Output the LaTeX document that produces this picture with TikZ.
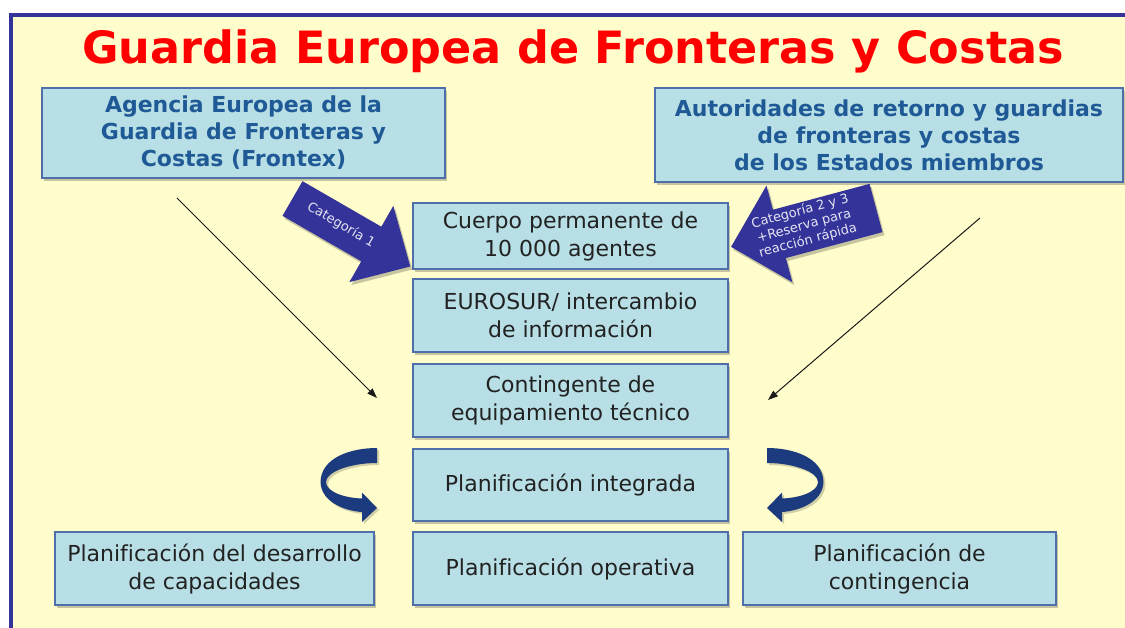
\documentclass[tikz,border=0pt]{standalone}
\usepackage{fontspec}
\setmainfont{DejaVu Sans}[Ligatures={NoCommon}]
\usetikzlibrary{arrows.meta,shadows}
\definecolor{bgyellow}{HTML}{FFFDCC}
\definecolor{framebl}{HTML}{333399}
\definecolor{boxfill}{HTML}{B7DFE5}
\definecolor{boxline}{HTML}{4F6FAA}
\definecolor{hdtext}{HTML}{1F5A96}
\definecolor{bodytext}{HTML}{222222}
\definecolor{blockarrow}{HTML}{333399}
\definecolor{curvearrow}{HTML}{1C3A7E}
\definecolor{arrowtext}{HTML}{E4E4F4}
\definecolor{titlered}{HTML}{FF0000}
\begin{document}
\begin{tikzpicture}[x=1pt,y=-1pt,
  softshadow/.style={drop shadow={shadow xshift=2pt,shadow yshift=-3pt,opacity=0.22,fill=black}},
  box/.style={draw=boxline, line width=1.3pt, fill=boxfill, align=center, inner sep=0pt,
    text=bodytext, font=\fontsize{22}{28}\selectfont, softshadow},
  hbox/.style={box, text=hdtext, font=\bfseries\fontsize{22}{27}\selectfont},
  titletext/.style={text=titlered, font=\bfseries\fontsize{44.5}{50}\selectfont, inner sep=0pt},
  blockarr/.style={fill=blockarrow, softshadow},
  curvearr/.style={fill=curvearrow, drop shadow={shadow xshift=2pt,shadow yshift=-2pt,opacity=0.18,fill=black}},
  arrlabel/.style={text=arrowtext, font=\fontsize{13}{15}\selectfont, align=center, inner sep=0pt},
  thinarrow/.style={draw=black!90, line width=1pt, -{Triangle[length=10pt,width=7pt]}}
]
\useasboundingbox (0,0) rectangle (1125,628);
\fill[white] (0,0) rectangle (1125,628);
\begin{scope}
  \clip (0,0) rectangle (1125,628);
  \draw[framebl, line width=4pt, fill=bgyellow] (11,15) rectangle (1145,650);
\end{scope}

% title
\node[titletext, anchor=base] (title) at (573,64) {Guardia Europea de Fronteras y Costas};

% top boxes
\node[hbox, minimum width=403pt, minimum height=90pt] (frontex) at (243.5,133)
  {Agencia Europea de la\\Guardia de Fronteras y\\Costas (Frontex)};
\node[hbox, minimum width=468pt, minimum height=94pt] (autoridades) at (889,135)
  {Autoridades de retorno y guardias\\de fronteras y costas\\de los Estados miembros};

% central column
\node[box, minimum width=315pt, minimum height=66pt] (cuerpo) at (570.5,236)
  {Cuerpo permanente de\\10 000 agentes};
\node[box, minimum width=315pt, minimum height=73pt] (eurosur) at (570.5,315.5)
  {EUROSUR/ intercambio\\de información};
\node[box, minimum width=315pt, minimum height=73pt] (contingente) at (570.5,400.5)
  {Contingente de\\equipamiento técnico};
\node[box, minimum width=315pt, minimum height=72pt] (integrada) at (570.5,485)
  {Planificación integrada};
\node[box, minimum width=315pt, minimum height=73pt] (operativa) at (570.5,568.5)
  {Planificación operativa};

% bottom side boxes
\node[box, minimum width=319pt, minimum height=73pt] (desarrollo) at (214.5,568.5)
  {Planificación del desarrollo\\de capacidades};
\node[box, minimum width=313pt, minimum height=73pt] (contingencia) at (899.5,568.5)
  {Planificación de\\contingencia};

% block arrow left (Categoria 1)
\begin{scope}[shift={(292.5,198.5)}, rotate=-30]
  \path[blockarr] (0,-20) -- (91,-20) -- (91,-44) -- (136,0) -- (91,44) -- (91,20) -- (0,20) -- cycle;
\end{scope}
\node[arrlabel, rotate=-30] (cat1) at (341,225) {Categoría 1};

% block arrow right (Categoria 2 y 3)
\begin{scope}[shift={(876,208)}, rotate=195]
  \path[blockarr] (0,-25) -- (100,-25) -- (100,-50) -- (150,0) -- (100,50) -- (100,25) -- (0,25) -- cycle;
\end{scope}
\node[arrlabel, rotate=15] (cat23) at (804,226) {Categoría 2 y 3\\+Reserva para\\reacción rápida};

% thin arrows
\coordinate (lstart) at (177,198);
\coordinate (lend) at (377,398);
\coordinate (rstart) at (980,218);
\coordinate (rend) at (768,400);
\draw[thinarrow] (lstart) -- (lend);
\draw[thinarrow] (rstart) -- (rend);

% curved arrows
\path[curvearr] (377,448) .. controls (350,448) and (321,458) .. (320.5,482)
  .. controls (321,502) and (345,511) .. (362,512) -- (362,522) -- (377,508) -- (362,492.5) -- (362,498.5)
  .. controls (345,498) and (326,492) .. (326,482)
  .. controls (326,472) and (350,463) .. (377,463) -- cycle;
\begin{scope}[shift={(1144,0)}, xscale=-1]
\path[curvearr] (377,448) .. controls (350,448) and (321,458) .. (320.5,482)
  .. controls (321,502) and (345,511) .. (362,512) -- (362,522) -- (377,508) -- (362,492.5) -- (362,498.5)
  .. controls (345,498) and (326,492) .. (326,482)
  .. controls (326,472) and (350,463) .. (377,463) -- cycle;
\end{scope}
\end{tikzpicture}
\end{document}
